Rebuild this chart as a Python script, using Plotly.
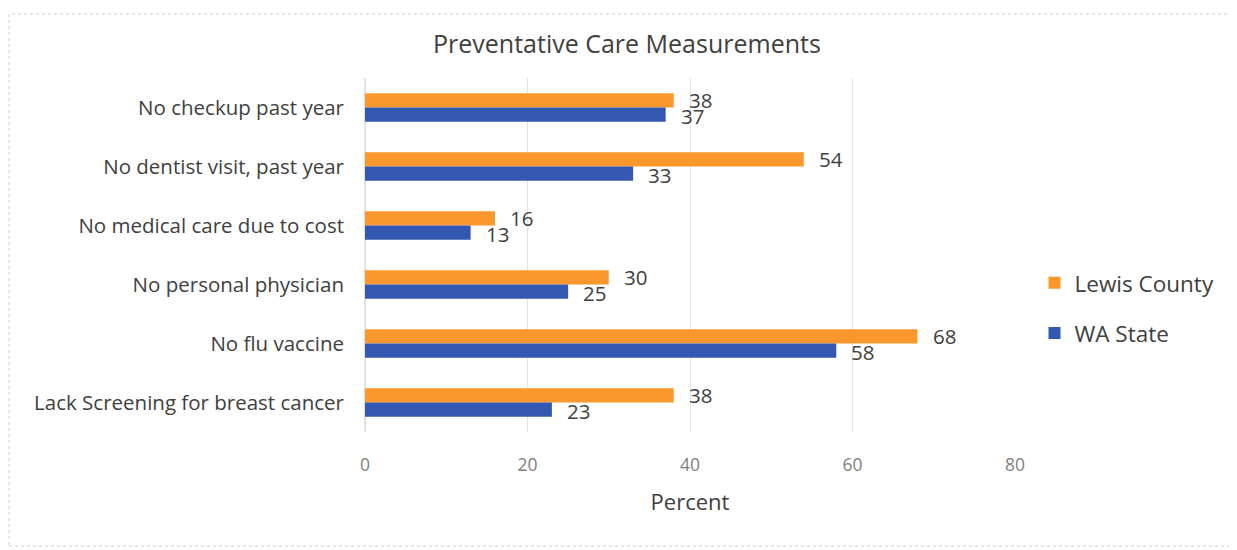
import plotly.graph_objects as go

categories = [
    "No checkup past year",
    "No dentist visit, past year",
    "No medical care due to cost",
    "No personal physician",
    "No flu vaccine",
    "Lack Screening for breast cancer",
]
lewis_county = [38, 54, 16, 30, 68, 38]
wa_state = [37, 33, 13, 25, 58, 23]
x_ticks = [0, 20, 40, 60, 80]

ORANGE = "#FA982E"
BLUE = "#3457B1"
FONT = "'Open Sans', 'Noto Sans', sans-serif"

fig = go.Figure()
fig.add_trace(go.Bar(
    y=categories, x=lewis_county, orientation="h", name="Lewis County",
    marker=dict(color=ORANGE, line=dict(width=0)), legendgroup="g0",
))
fig.add_trace(go.Bar(
    y=categories, x=wa_state, orientation="h", name="WA State",
    marker=dict(color=BLUE, line=dict(width=0)), legendgroup="g1",
))

annotations = []
for cat, v in zip(categories, lewis_county):
    annotations.append(dict(x=v, y=cat, xref="x", yref="y", text=str(v),
                            showarrow=False, xanchor="left", xshift=13, yshift=8,
                            font=dict(size=20.5, color="#404040", family=FONT)))
for cat, v in zip(categories, wa_state):
    annotations.append(dict(x=v, y=cat, xref="x", yref="y", text=str(v),
                            showarrow=False, xanchor="left", xshift=13, yshift=-8,
                            font=dict(size=20.5, color="#404040", family=FONT)))

W, H = 1229, 542
L, T, PW, PH = 357, 70, 650, 354

fig.update_layout(
    width=W, height=H,
    margin=dict(l=L, r=W - L - PW, t=T, b=H - T - PH),
    paper_bgcolor="white", plot_bgcolor="white",
    barmode="group", bargap=0.52, bargroupgap=0,
    font=dict(family=FONT, color="#404040"),
    title=dict(text="Preventative Care Measurements", x=0.403, xref="paper", xanchor="center",
               y=1 - 36 / H, yref="container", yanchor="middle",
               font=dict(size=25, color="#404040", family=FONT)),
    xaxis=dict(range=[0, 80], tickvals=x_ticks, showgrid=True, gridcolor="#e3e3e3", gridwidth=1,
               zeroline=True, zerolinecolor="#e3e3e3", showline=False,
               ticks="", ticklabelstandoff=20,
               tickfont=dict(size=17.5, color="#7f7f7f", family=FONT),
               title=dict(text="Percent", standoff=20, font=dict(size=22, color="#404040", family=FONT))),
    yaxis=dict(autorange="reversed", showgrid=False, showline=False, ticks="",
               ticklabelstandoff=20,
               tickfont=dict(size=20.5, color="#404040", family=FONT)),
    legend=dict(x=1.03, xref="paper", y=0.35, yanchor="middle", xanchor="left",
                font=dict(size=22.5, color="#404040", family=FONT),
                tracegroupgap=18, itemwidth=30, traceorder="grouped"),
    annotations=annotations,
    shapes=[dict(type="rect", xref="paper", yref="paper", x0=-(L - 1) / PW, x1=(W - L - 6) / PW,
                 y0=-(H - T - PH - 4) / PH, y1=(PH + T - 6) / PH,
                 line=dict(color="#cfcfcf", width=1, dash="dot"))],
)

fig.write_html("out.html")
